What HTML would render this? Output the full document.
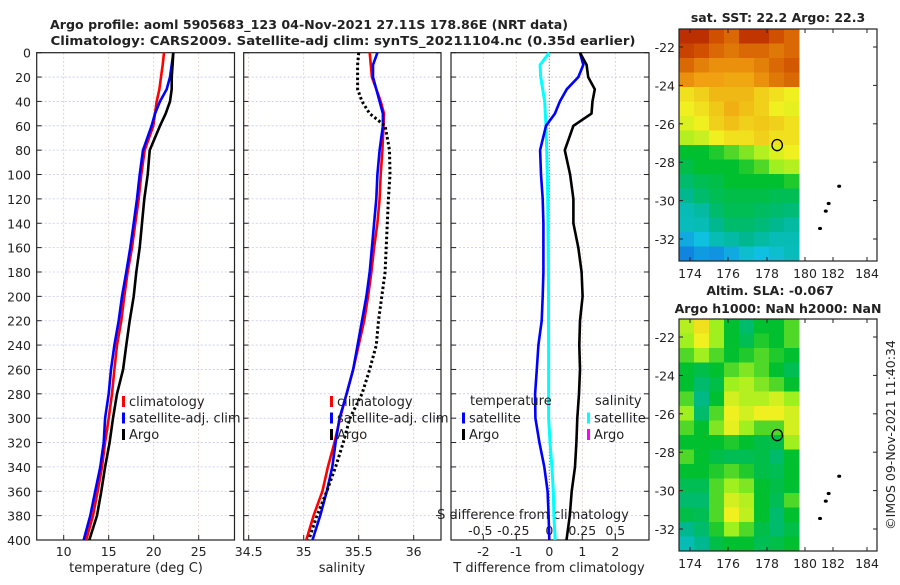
<!DOCTYPE html>
<html><head><meta charset="utf-8"><style>
body{margin:0;background:#fff;}
svg text{font-family:"DejaVu Sans","Liberation Sans",sans-serif;fill:#222;}
</style></head><body>
<svg id="fig" width="900" height="580" viewBox="0 0 900 580" xmlns="http://www.w3.org/2000/svg">
<text x="309" y="29" text-anchor="middle" font-weight="bold" font-size="12.5" textLength="518" lengthAdjust="spacingAndGlyphs">Argo profile: aoml 5905683_123 04-Nov-2021 27.11S 178.86E (NRT data)</text>
<text x="343" y="45" text-anchor="middle" font-weight="bold" font-size="12.5" textLength="585" lengthAdjust="spacingAndGlyphs">Climatology: CARS2009. Satellite-adj clim: synTS_20211104.nc (0.35d earlier)</text>
<g id="plots"></g>
<text x="778" y="22" text-anchor="middle" font-weight="bold" font-size="12.5">sat. SST: 22.2 Argo: 22.3</text>
<text x="770" y="295" text-anchor="middle" font-weight="bold" font-size="12.5">Altim. SLA: -0.067</text>
<text x="778" y="313" text-anchor="middle" font-weight="bold" font-size="12.5">Argo h1000: NaN h2000: NaN</text>
<text transform="translate(895,435) rotate(-90)" text-anchor="middle" font-size="12.5">©IMOS 09-Nov-2021 11:40:34</text>
</svg>
<script>
const depths=[0,10,20,30,40,50,60,80,100,120,140,160,180,200,220,240,260,280,300,320,340,360,380,400];
const tClim=[21.14,21.0,20.81,20.63,20.33,20.15,19.96,19.0,18.62,18.33,17.96,17.59,17.11,16.73,16.4,15.92,15.63,15.37,15.0,14.6,14.26,13.78,13.26,12.5];
const tSat=[22.18,22.0,21.81,21.44,20.7,20.14,19.77,18.81,18.44,18.14,17.78,17.4,16.96,16.48,16.11,15.63,15.26,15.0,14.6,14.44,14.07,13.5,12.96,12.22];
const tArgo=[22.18,22.1,22.0,22.0,21.81,21.33,20.7,19.56,19.33,18.96,18.7,18.44,18.07,17.78,17.33,16.96,16.6,15.92,15.48,15.1,14.6,14.18,13.7,12.85];
const sClim=[35.60,35.61,35.62,35.66,35.70,35.73,35.725,35.715,35.70,35.69,35.67,35.64,35.615,35.585,35.55,35.50,35.45,35.39,35.33,35.28,35.22,35.17,35.09,35.024];
const sSat=[35.67,35.63,35.63,35.66,35.69,35.72,35.72,35.69,35.67,35.66,35.64,35.62,35.60,35.57,35.53,35.49,35.45,35.39,35.325,35.29,35.26,35.21,35.15,35.08];
const sArgo=[35.50,35.49,35.49,35.49,35.53,35.60,35.74,35.78,35.785,35.77,35.76,35.75,35.74,35.71,35.68,35.66,35.60,35.53,35.42,35.36,35.29,35.21,35.12,35.046];
const dTSat=[0.93,1.03,0.88,0.53,0.32,0.17,-0.10,-0.28,-0.25,-0.2,-0.18,-0.18,-0.18,-0.2,-0.23,-0.33,-0.38,-0.43,-0.42,-0.3,-0.15,-0.05,-0.02,0];
const dTArgo=[0.93,1.13,1.18,1.38,1.31,1.28,0.73,0.47,0.63,0.73,0.73,0.88,0.98,1.01,0.93,0.91,0.93,0.9,0.85,0.82,0.78,0.68,0.62,0.52];
const dSSat=[0,-0.07,-0.065,-0.05,-0.035,-0.03,-0.025,-0.02,-0.015,-0.012,-0.01,-0.008,-0.007,-0.006,-0.006,-0.005,-0.005,-0.005,-0.005,0.005,0.02,0.03,0.035,0.045];
const depthTicks=[0,20,40,60,80,100,120,140,160,180,200,220,240,260,280,300,320,340,360,380,400];
const tTicks=[10,15,20,25];
const sTicks=[34.5,35,35.5,36];
const dTTicks=[-2,-1,0,1,2];
const dSTicks=[-0.5,-0.25,0,0.25,0.5];
const dSTickLabels=["-0.5","-0.25","0","0.25","0.5"];
const mapLatTicks=[-22,-24,-26,-28,-30,-32];
const mapLonTicks=[174,176,178,180,182,184];
const sstGrid=[
[0.93,0.93,0.88,0.85,0.92,0.92,0.88,0.85],[0.9,0.88,0.85,0.83,0.85,0.85,0.83,0.85],
[0.85,0.82,0.8,0.8,0.8,0.82,0.85,0.87],[0.8,0.78,0.78,0.77,0.77,0.8,0.83,0.85],
[0.7,0.72,0.75,0.75,0.75,0.72,0.7,0.68],[0.68,0.7,0.73,0.76,0.74,0.72,0.68,0.67],
[0.66,0.68,0.72,0.74,0.72,0.73,0.72,0.7],[0.62,0.64,0.68,0.7,0.7,0.72,0.7,0.7],
[0.5,0.5,0.52,0.55,0.58,0.62,0.66,0.68],[0.48,0.5,0.5,0.5,0.52,0.55,0.6,0.62],
[0.45,0.47,0.48,0.5,0.5,0.5,0.5,0.52],[0.42,0.45,0.47,0.48,0.48,0.48,0.47,0.47],
[0.38,0.4,0.45,0.47,0.47,0.46,0.45,0.44],[0.37,0.38,0.42,0.45,0.45,0.44,0.42,0.4],
[0.3,0.33,0.38,0.4,0.42,0.4,0.38,0.38],[0.25,0.28,0.27,0.3,0.35,0.33,0.35,0.37]];
const slaGrid=[
[0.62,0.7,0.6,0.5,0.45,0.5,0.5,0.55],[0.6,0.68,0.6,0.5,0.47,0.52,0.5,0.55],
[0.55,0.6,0.55,0.5,0.52,0.55,0.52,0.5],[0.5,0.48,0.5,0.55,0.58,0.55,0.5,0.47],
[0.5,0.45,0.48,0.6,0.62,0.58,0.55,0.5],[0.55,0.43,0.5,0.65,0.62,0.62,0.65,0.6],
[0.6,0.45,0.55,0.68,0.65,0.68,0.68,0.65],[0.55,0.5,0.58,0.67,0.6,0.55,0.55,0.65],
[0.5,0.5,0.5,0.52,0.5,0.48,0.48,0.6],[0.55,0.5,0.48,0.47,0.47,0.48,0.45,0.5],
[0.5,0.5,0.52,0.55,0.52,0.48,0.47,0.5],[0.47,0.47,0.55,0.6,0.58,0.5,0.48,0.5],
[0.45,0.45,0.55,0.65,0.62,0.5,0.47,0.55],[0.48,0.47,0.55,0.68,0.63,0.5,0.45,0.5],
[0.42,0.45,0.52,0.6,0.55,0.48,0.45,0.48],[0.38,0.42,0.48,0.5,0.5,0.47,0.48,0.5]];
const islandsLon=[181.1,181.4,181.55,182.1];
const islandsLat=[-31.45,-30.55,-30.15,-29.25];
const argoLon=[178.86];
const argoLat=[-27.11];

const NS='http://www.w3.org/2000/svg';
const root=document.getElementById('plots');
function mk(tag,attrs,parent){const e=document.createElementNS(NS,tag);for(const k in attrs)e.setAttribute(k,attrs[k]);(parent||root).appendChild(e);return e;}
function lin(d0,d1,r0,r1){return v=>r0+(v-d0)*(r1-r0)/(d1-d0);}
const Y=lin(0,400,52.7,540);
const PT={x0:36.7,x1:234.5},PS={x0:243.7,x1:441},PD={x0:451,x1:649};
const XT=lin(7,10,36.7,63.7), XS=lin(34.5,35,248.7,303.7), XD=lin(0,1,549.3,582.3), XDS=lin(0,0.25,549.3,582.3);

function panel(P,name,xticks,xfun,xlabels,showY){
  const g=mk('g',{});
  
  
  depthTicks.forEach(d=>{const l=mk('line',{x1:P.x0,x2:P.x1,y1:Y(d),y2:Y(d),stroke:'#c4c8ec','stroke-width':0.8,'stroke-dasharray':'2,2'},g);
    
    mk('line',{x1:P.x0,x2:P.x0+5,y1:Y(d),y2:Y(d),stroke:'#222'},g);
    mk('line',{x1:P.x1-5,x2:P.x1,y1:Y(d),y2:Y(d),stroke:'#222'},g);
    if(showY){const t=mk('text',{x:31,y:Y(d)+5,'text-anchor':'end','font-size':12.5},g);t.textContent=d;
      }
  });
  xticks.forEach((v,i)=>{const x=xfun(v);
    mk('line',{x1:x,x2:x,y1:52.7,y2:540,stroke:'#ddc8c0','stroke-width':0.8,'stroke-dasharray':'2,2'},g);
    mk('line',{x1:x,x2:x,y1:540,y2:535,stroke:'#222'},g);
    const t=mk('text',{x:x,y:556,'text-anchor':'middle','font-size':12.5},g);t.textContent=xlabels?xlabels[i]:v;
    
  });
  const r=mk('rect',{x:P.x0,y:52.7,width:P.x1-P.x0,height:540-52.7,fill:'none',stroke:'#222','stroke-width':1.2},g);
  
  return g;
}
function series(vals,xf,color,name,extra){
  const pts=vals.map((v,i)=>xf(v).toFixed(1)+','+Y(depths[i]).toFixed(1)).join(' ');
  const p=mk('polyline',Object.assign({points:pts,fill:'none',stroke:color,'stroke-width':2.6,'stroke-linejoin':'round'},extra||{}));
  
}
function legend(items,x,y){
  items.forEach((it,i)=>{
    const r=mk('rect',{x:x,y:y+i*16.5-9,width:3,height:11,fill:it[1]});
    
    const t=mk('text',{x:x+7,y:y+i*16.5+1,'font-size':13});t.textContent=it[0];
    
  });
}
panel(PT,'temperature-panel',tTicks,XT,null,true);
panel(PS,'salinity-panel',sTicks,XS,null,false);
panel(PD,'difference-panel',dTTicks.filter(v=>v!==0),XD,null,false);
// zero labels & dotted zero line on diff panel
{const z=mk('line',{x1:XD(0),x2:XD(0),y1:52.7,y2:540,stroke:'#555','stroke-width':1,'stroke-dasharray':'1,2'});

const t=mk('text',{x:XD(0),y:556,'text-anchor':'middle','font-size':12.5});t.textContent='0';
}
dSTicks.forEach((v,i)=>{const t=mk('text',{x:XDS(v)-(v<0?3:0),y:535,'text-anchor':'middle','font-size':12.5});t.textContent=dSTickLabels[i];
  });
[['temperature (deg C)',136,'x-axis-title-temperature'],['salinity',342,'x-axis-title-salinity'],['T difference from climatology',549,'x-axis-title-t-diff']].forEach(a=>{
  const t=mk('text',{x:a[1],y:572,'text-anchor':'middle','font-size':13});t.textContent=a[0];
  });
{const t=mk('text',{x:533,y:519,'text-anchor':'middle','font-size':13});t.textContent='S difference from climatology';
}

series(tClim,XT,'#ff0000','temp-climatology-line');
series(tSat,XT,'#0000ff','temp-satellite-line');
series(tArgo,XT,'#000000','temp-argo-line');
series(sClim,XS,'#ff0000','sal-climatology-line');
series(sSat,XS,'#0000ff','sal-satellite-line');
series(sArgo,XS,'#000000','sal-argo-line',{'stroke-dasharray':'2.5,2.5','stroke-width':3});
series(dSSat,XDS,'#00ffff','sdiff-satellite-line',{'stroke-width':3});
series(dTSat,XD,'#0000ff','tdiff-satellite-line');
series(dTArgo,XD,'#000000','tdiff-argo-line');

legend([['climatology','#ff0000'],['satellite-adj. clim','#0000ff'],['Argo','#000000']],122,405);
legend([['climatology','#ff0000'],['satellite-adj. clim','#0000ff'],['Argo','#000000']],330,405);
{const t=mk('text',{x:470,y:405,'font-size':13});t.textContent='temperature';
const s=mk('text',{x:595,y:405,'font-size':13});s.textContent='salinity';}
legend([['satellite','#0000ff'],['Argo','#000000']],462,421.5);
legend([['satellite','#00ffff'],['Argo','#ff00ff']],587,421.5);

// colormap
const stops=[[0,[0,32,160]],[0.2,[16,96,224]],[0.33,[16,192,224]],[0.42,[0,184,144]],[0.5,[0,192,48]],[0.6,[160,240,32]],[0.68,[240,240,32]],[0.78,[240,160,16]],[0.88,[208,80,0]],[1,[160,0,0]]];
function cmap(v){for(let i=1;i<stops.length;i++){if(v<=stops[i][0]){const a=stops[i-1],b=stops[i],f=(v-a[0])/(b[0]-a[0]);return 'rgb('+a[1].map((c,j)=>Math.round(c+(b[1][j]-c)*f)).join(',')+')';}}return 'rgb(160,0,0)';}
const LON=lin(174,180,684.2,799), LONL=[690,728,767,805,833,867];
function mapPanel(grid,y0,name){
  const LAT=lin(-22,-32,y0+18,y0+210);
  const g=mk('g',{});
  const x0=679,x1=799,yb=y0+232,rows=grid.length,cols=grid[0].length,cw=(x1-x0)/cols,ch=(yb-y0)/rows;
  grid.forEach((row,r)=>row.forEach((v,c)=>{const e=mk('rect',{x:x0+c*cw,y:y0+r*ch,width:cw+0.5,height:ch+0.5,fill:cmap(v)},g);
    }));
  islandsLon.forEach((lo,i)=>{const e=mk('ellipse',{cx:LON(lo),cy:LAT(islandsLat[i]),rx:2,ry:1.6,fill:'#000'},g);
    });
  const c=mk('ellipse',{cx:LON(argoLon[0]),cy:LAT(argoLat[0]),rx:5.2,ry:5.6,fill:'none',stroke:'#000','stroke-width':1.3},g);
  
  mapLatTicks.forEach(v=>{const y=LAT(v);mk('line',{x1:679,x2:683,y1:y,y2:y,stroke:'#222'},g);mk('line',{x1:873,x2:877,y1:y,y2:y,stroke:'#222'},g);
    const t=mk('text',{x:675,y:y+5,'text-anchor':'end','font-size':12.5},g);t.textContent=v;
    });
  mapLonTicks.forEach((v,i)=>{const x=LONL[i];mk('line',{x1:x,x2:x,y1:yb,y2:yb-4,stroke:'#222'},g);mk('line',{x1:x,x2:x,y1:y0,y2:y0+4,stroke:'#222'},g);
    const t=mk('text',{x:x,y:yb+17,'text-anchor':'middle','font-size':12.5},g);t.textContent=v;
    });
  const f=mk('rect',{x:679,y:y0,width:198,height:232,fill:'none',stroke:'#222','stroke-width':1.2},g);
  
}
mapPanel(sstGrid,29,'sst-map');
mapPanel(slaGrid,319,'sla-map');
</script>
</body></html>
